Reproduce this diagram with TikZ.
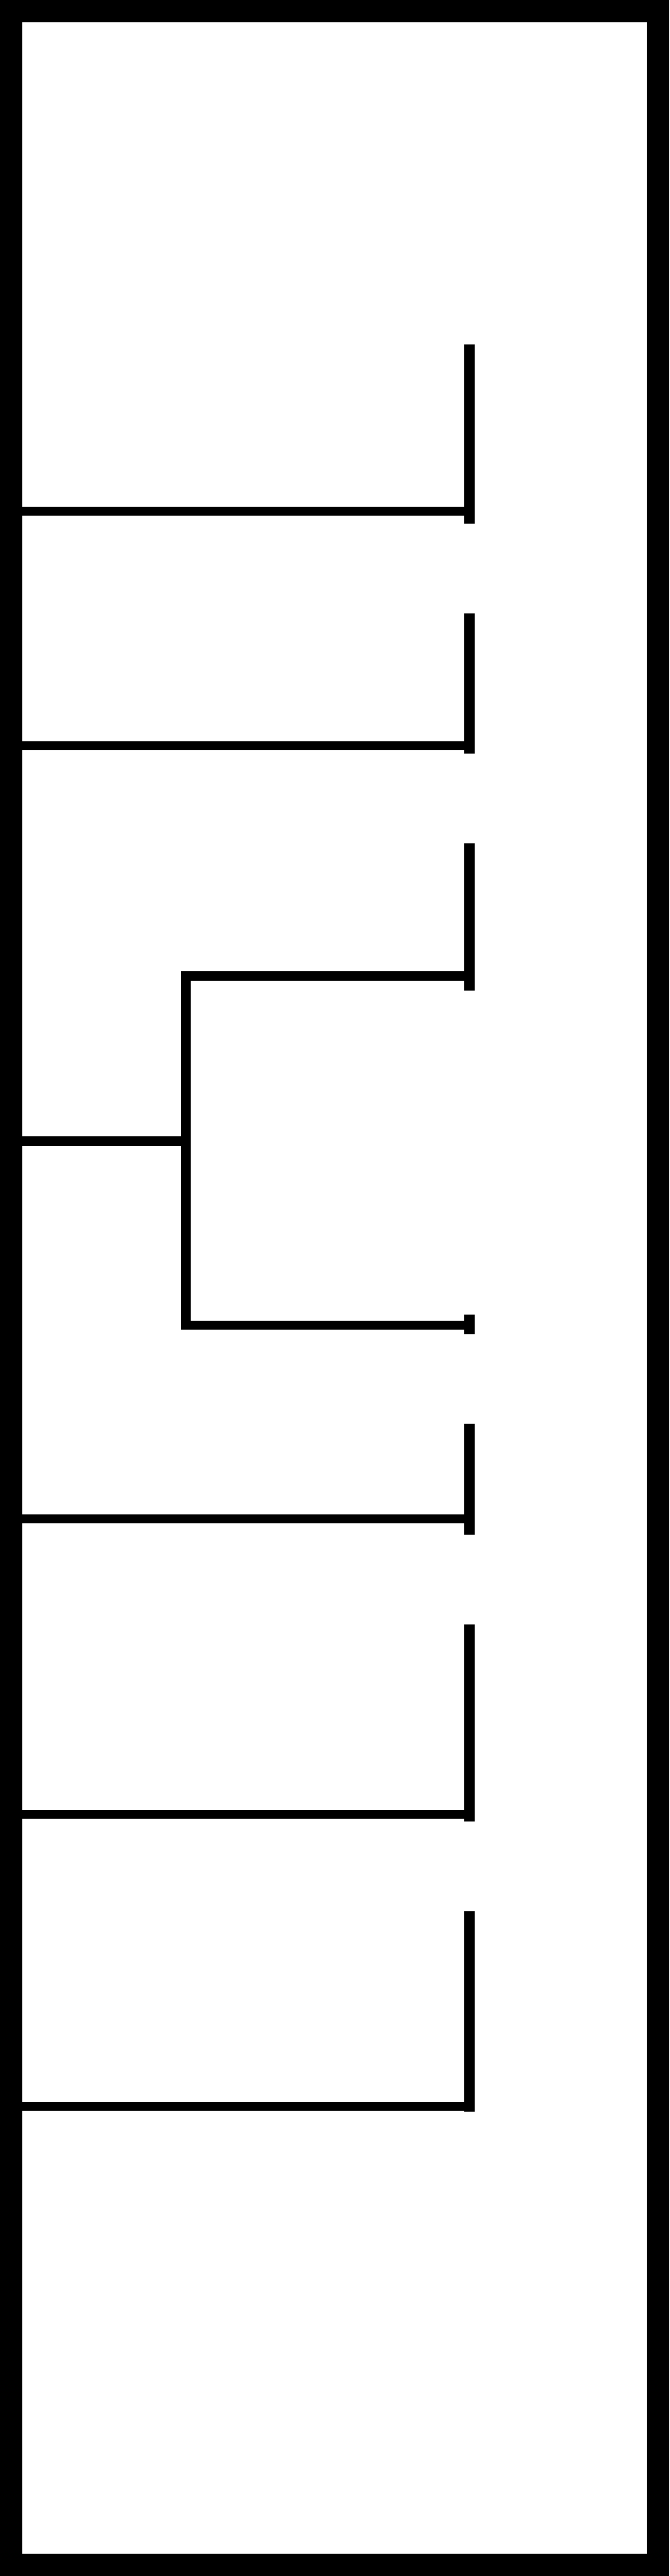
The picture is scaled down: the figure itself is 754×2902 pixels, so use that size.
\documentclass[tikz,border=0pt]{standalone}
\usepackage{tikz}
\usetikzlibrary{positioning}
\definecolor{ink}{HTML}{000000}

\begin{document}
\begin{tikzpicture}[x=0.02cm,y=-0.02cm]
\useasboundingbox (0,0) rectangle (754,2902);
\coordinate (nw) at (12.5,12.5);
\coordinate (se) at (741.5,2889.5);
\draw[ink,line width=14.2pt] (nw) rectangle (se);
% right ticks
\coordinate (t1top) at (529,388);  \coordinate (t1bot) at (529,590);
\coordinate (t2top) at (529,691);  \coordinate (t2bot) at (529,849);
\coordinate (t3top) at (529,950);  \coordinate (t3bot) at (529,1116);
\coordinate (t4top) at (529,1481); \coordinate (t4bot) at (529,1503);
\coordinate (t5top) at (529,1604); \coordinate (t5bot) at (529,1729);
\coordinate (t6top) at (529,1830); \coordinate (t6bot) at (529,2052);
\coordinate (t7top) at (529,2153); \coordinate (t7bot) at (529,2379);
\draw[ink,line width=6.5pt] (t1top) -- (t1bot);
\draw[ink,line width=6.5pt] (t2top) -- (t2bot);
\draw[ink,line width=6.5pt] (t3top) -- (t3bot);
\draw[ink,line width=6.5pt] (t4top) -- (t4bot);
\draw[ink,line width=6.5pt] (t5top) -- (t5bot);
\draw[ink,line width=6.5pt] (t6top) -- (t6bot);
\draw[ink,line width=6.5pt] (t7top) -- (t7bot);
% branches from the left side
\coordinate (b1) at (12.5,576);
\coordinate (b2) at (12.5,840);
\coordinate (b34) at (12.5,1285.5);
\coordinate (b5) at (12.5,1711);
\coordinate (b6) at (12.5,2044);
\coordinate (b7) at (12.5,2373);
\coordinate (j3) at (209.5,1099.5);
\coordinate (j4) at (209.5,1493);
\draw[ink,line width=6pt] (b1) -- (b1 -| t1top);
\draw[ink,line width=6pt] (b2) -- (b2 -| t2top);
\draw[ink,line width=6pt] (j3 -| t3top) -- (j3) -- (j4) -- (j4 -| t4top);
\draw[ink,line width=6pt] (b34) -- (b34 -| j3);
\draw[ink,line width=6pt] (b5) -- (b5 -| t5top);
\draw[ink,line width=6pt] (b6) -- (b6 -| t6top);
\draw[ink,line width=6pt] (b7) -- (b7 -| t7top);
\end{tikzpicture}
\end{document}
